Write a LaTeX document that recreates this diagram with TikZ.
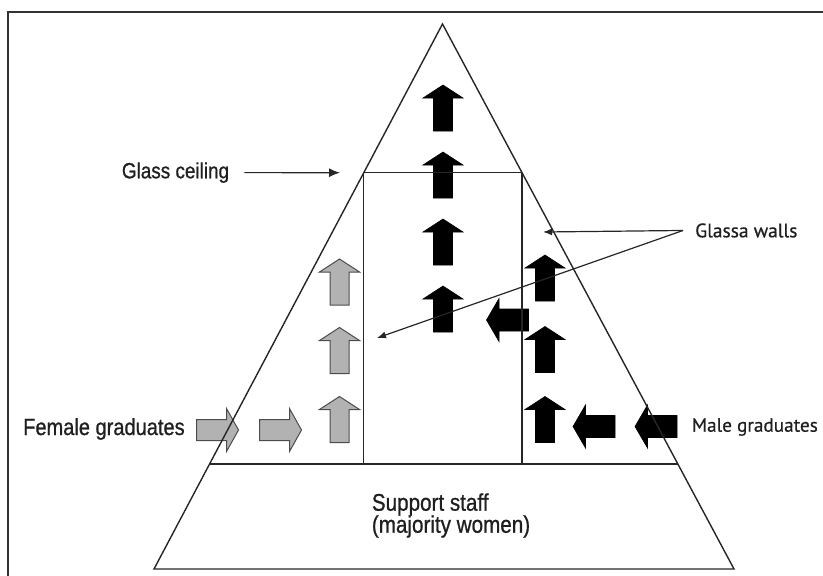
\documentclass[tikz,border=0pt]{standalone}
\usepackage{fontspec}
\usetikzlibrary{arrows.meta,calc}
\newfontfamily\helv[FakeStretch=0.86,FakeBold=0.8]{Liberation Sans}
\newfontfamily\myr[FakeBold=0.6]{PT Sans}
\begin{document}
\begin{tikzpicture}[x=1pt,y=-1pt,
  lab/.style={inner sep=0pt, anchor=base west, text=black!88},
  outline/.style={line width=1.4pt, draw=black!85},
  wall/.style={line width=1.2pt, draw=black!85},
  ptr/.style={line width=1.2pt, draw=black!85, -{Latex[length=9pt,width=7pt]}},
  blackarr/.style={fill=black, draw=black, line width=0.6pt},
  greyarr/.style={fill=black!30, draw=black!70, line width=1pt},
  uparr/.pic={\path[pic actions] (0,-23) -- (20,-10) -- (9.5,-10) -- (9.5,23) -- (-9.5,23) -- (-9.5,-10) -- (-20,-10) -- cycle;},
  leftarr/.pic={\path[pic actions] (-21,0) -- (-8.5,-21.5) -- (-8.5,-11) -- (21,-11) -- (21,11) -- (-8.5,11) -- (-8.5,21.5) -- cycle;},
  rightarr/.pic={\path[pic actions] (21,0) -- (9,-21.5) -- (9,-10.5) -- (-21,-10.5) -- (-21,10.5) -- (9,10.5) -- (9,21.5) -- cycle;}
]
\useasboundingbox (0,0) rectangle (823,576);
% frame
\draw[line width=1.6pt, draw=black!80] (8,576) -- (8,11.7) -- (823,11.7);

% block arrows: centre column
\pic[blackarr] (c1) at (443,108) {uparr};
\pic[blackarr] (c2) at (443,175) {uparr};
\pic[blackarr] (c3) at (443,242) {uparr};
\pic[blackarr] (c4) at (443,309) {uparr};
% left (female) column
\pic[greyarr] (f1) at (339.5,282) {uparr};
\pic[greyarr] (f2) at (339.5,350.5) {uparr};
\pic[greyarr] (f3) at (339.5,419.5) {uparr};
\pic[greyarr] (fa) at (217.5,430) {rightarr};
\pic[greyarr] (fb) at (280.5,430) {rightarr};
% right (male) column
\pic[blackarr] (m1) at (545,278) {uparr};
\pic[blackarr] (m2) at (545,349.5) {uparr};
\pic[blackarr] (m3) at (545,419.5) {uparr};
\pic[blackarr] (mh) at (507.5,320) {leftarr};
\pic[blackarr] (ma) at (594,426.5) {leftarr};
\pic[blackarr] (mb) at (656,426.5) {leftarr};

% pyramid
\coordinate (apex) at (442.5,24);
\coordinate (bl) at (154,569);
\coordinate (br) at (734,569);
\coordinate (cl) at ($(apex)!0.273!(bl)$);
\coordinate (cr) at ($(apex)!0.273!(br)$);
\coordinate (sl) at ($(apex)!0.8073!(bl)$);
\coordinate (sr) at ($(apex)!0.8073!(br)$);
\draw[outline] (apex) -- (bl) -- (br) -- cycle;
\draw[outline] (sl) -- (sr);
\draw[wall] (cl) -- (cr);
\draw[wall] (cl) -- (cl |- sl);
\draw[wall] (cr) -- (cr |- sl);

% labels
\node[lab, font=\helv\fontsize{22}{24}\selectfont] (gc) at (121.7,178.3) {Glass ceiling};
\node[lab, font=\helv\fontsize{23.3}{24}\selectfont] (fg) at (23,435) {Female graduates};
\node[lab, font=\helv\fontsize{24}{24}\selectfont] (ss1) at (371.7,510.7) {Support staff};
\node[lab, font=\helv\fontsize{24}{24}\selectfont] (ss2) at (371.7,532.7) {(majority women)};
\node[lab, font=\myr\fontsize{19.5}{22}\selectfont] (gw) at (695,237.3) {Glassa walls};
\node[lab, font=\myr\fontsize{19.2}{22}\selectfont] (mg) at (691.7,431.7) {Male graduates};

% pointers
\coordinate (gcend) at (340,172.7);
\draw[ptr, -{Latex[length=11pt,width=9pt]}] ([xshift=15pt]gc.east) -- (gcend);
\coordinate (gwv) at ([xshift=-12pt]gw.west);
\coordinate (gwt1) at (543,232);
\coordinate (gwt2) at (377,338);
\draw[ptr] (gwv) -- (gwt1);
\draw[ptr] (gwv) -- (gwt2);
\end{tikzpicture}
\end{document}
